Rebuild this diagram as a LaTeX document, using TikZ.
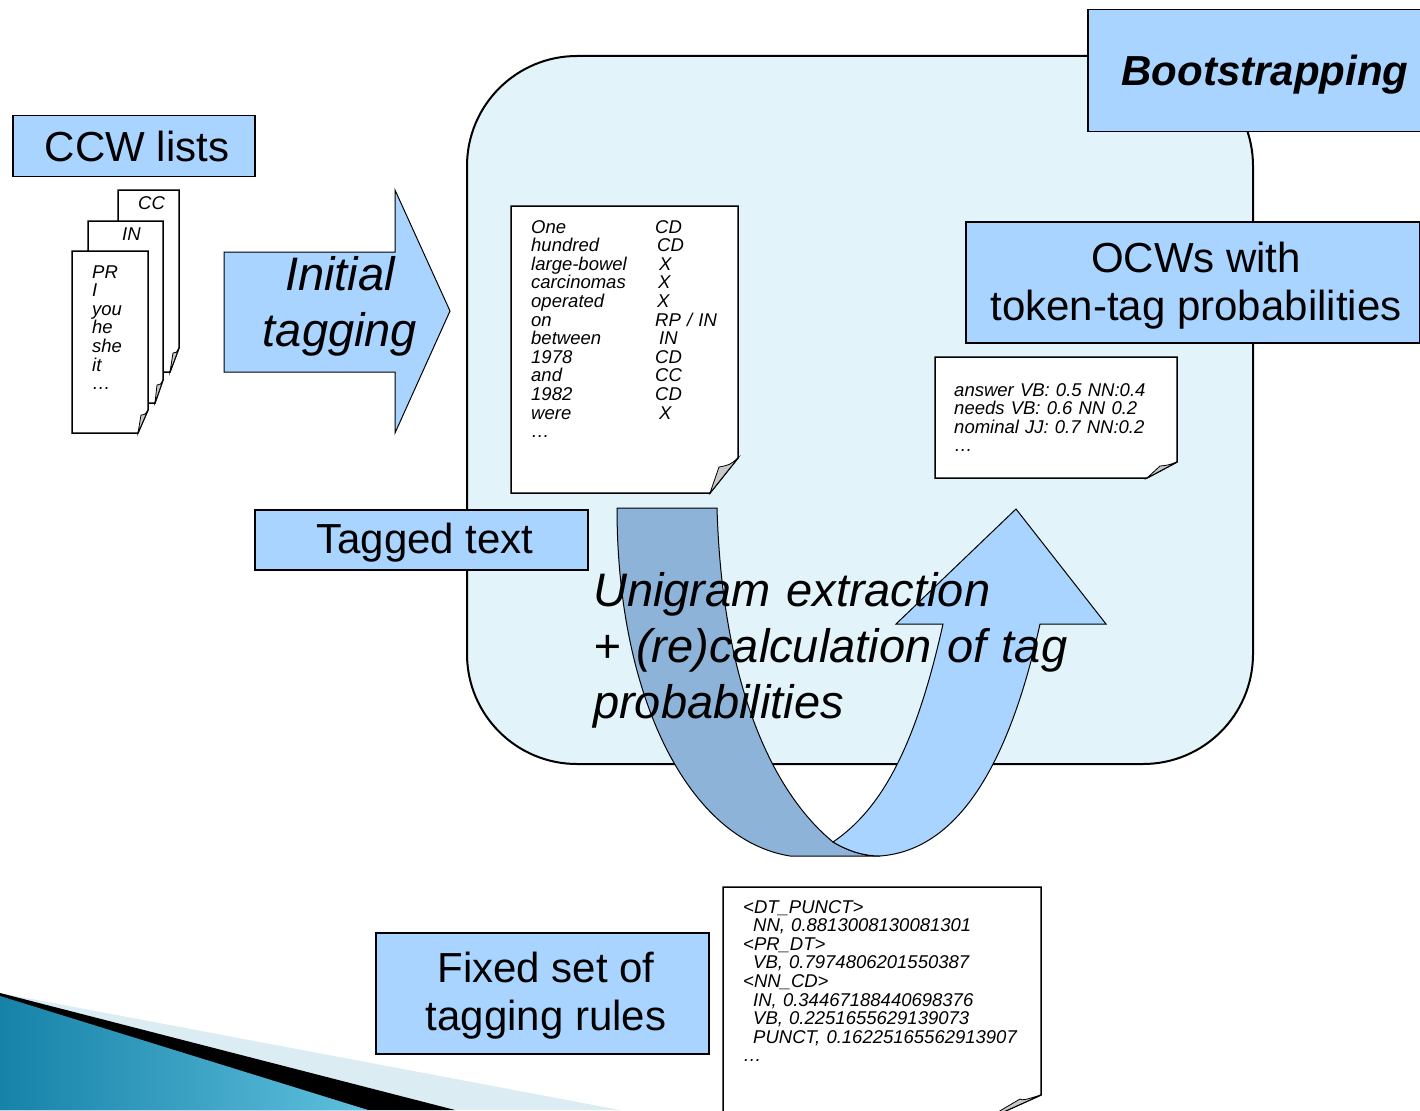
\documentclass[tikz,border=0pt]{standalone}
\usepackage{fontspec}
\setmainfont{Liberation Sans}
\definecolor{boxblue}{RGB}{168,212,255}
\definecolor{bigcyan}{RGB}{226,244,249}
\definecolor{darkblue}{RGB}{141,179,217}
\definecolor{foldgray}{RGB}{200,200,200}
\definecolor{lightband}{RGB}{220,236,243}
\definecolor{tealdark}{RGB}{22,130,168}
\definecolor{teallight}{RGB}{95,192,222}
\newcommand{\docpage}[8]{%
  \filldraw[pageline] (#1,#2) -- (#3,#2) -- (#3,#4-#6) -- (#3-#5,#4) -- (#1,#4) -- cycle;
  \filldraw[foldline] (#3,#4-#6) .. controls (#3-0.3*#5,#4-0.8*#6) .. (#7,#8) -- (#3-#5,#4) -- cycle;}
\begin{document}
\begin{tikzpicture}[x=1pt,y=-1pt,
  box/.style={draw=black,line width=1.5pt,fill=boxblue,inner sep=0pt,anchor=north west},
  bigtext/.style={font=\fontsize{42}{48}\selectfont,inner sep=0pt,anchor=base},
  ittext/.style={font=\fontsize{47}{56}\selectfont\itshape,inner sep=0pt},
  doctext/.style={font=\fontsize{18.5}{18.6}\selectfont\itshape,inner sep=0pt,align=left,anchor=base west},
  pageline/.style={draw=black,line width=1.5pt,fill=white},
  foldline/.style={draw=black,line width=0.8pt,fill=foldgray},
  shapeline/.style={draw=black,line width=1pt}]
\useasboundingbox (0,0) rectangle (1420,1110);
\clip (0,0) rectangle (1420,1110);

% bottom-left decoration
\fill[lightband] (0,993) -- (620,1110) -- (0,1110) -- cycle;
\fill[black] (0,993) -- (455,1110) -- (0,1110) -- cycle;
\shade[left color=tealdark,right color=teallight] (0,996) -- (368,1110) -- (0,1110) -- cycle;

% big rounded bootstrapping area
\node[draw=black,line width=2pt,fill=bigcyan,rounded corners=110pt,minimum width=786pt,minimum height=708pt,anchor=north west,inner sep=0pt] (area) at (466,55) {};

% Bootstrapping label box
\node[box,minimum width=360pt,minimum height=122pt] (bootbox) at (1087,9) {};
\node[font=\fontsize{42}{48}\selectfont\bfseries\itshape,inner sep=0pt,anchor=base] (boottext) at (1265,86) {Bootstrapping};

% CCW lists
\node[box,minimum width=242pt,minimum height=61pt] (ccwbox) at (12,115) {};
\node[bigtext] (ccwtext) at (137,162) {CCW lists};
\docpage{118}{190}{179}{372}{9}{24}{173}{353}
\docpage{88}{221}{163}{403}{8}{23}{157}{385}
\docpage{72}{251}{148}{433}{10}{23}{141}{415}
\node[doctext] (cclabel) at (138,209) {CC};
\node[doctext] (inlabel) at (122,240) {IN};
\node[doctext,text width=50pt] (prlist) at (92,278) {PR\\I\\you\\he\\she\\it\\…};

% Initial tagging arrow
\filldraw[shapeline,fill=boxblue] (224,252) -- (395,252) -- (395,190) -- (450,311) -- (395,433) -- (395,372) -- (224,372) -- cycle;
\node[ittext,anchor=base] (init1) at (340,290) {Initial};
\node[ittext,anchor=base] (init2) at (340,346) {tagging};

% tagged text document
\docpage{511}{206}{738}{493}{28}{35}{719}{467}
\node[doctext,text width=120pt] (words) at (531,233) {One\\hundred\\large-bowel\\carcinomas\\operated\\on\\between\\1978\\and\\1982\\were\\…};
\node[doctext,text width=80pt] (tags) at (655,233) {CD\\\hspace*{2pt}CD\\\hspace*{4pt}X\\\hspace*{3pt}X\\\hspace*{2pt}X\\RP / IN\\\hspace*{4pt}IN\\CD\\CC\\CD\\\hspace*{4pt}X};

% Tagged text box
\node[box,minimum width=333pt,minimum height=60pt] (taggedbox) at (254,509) {};
\node[bigtext] (taggedtext) at (425,553) {Tagged text};

% OCWs box
\node[box,minimum width=454pt,minimum height=121pt] (ocwbox) at (965,221) {};
\node[bigtext] (ocw1) at (1196,272) {OCWs with};
\node[bigtext] (ocw2) at (1196,320) {token-tag probabilities};

% OCW document
\docpage{935}{357}{1177}{478}{30}{16}{1160}{466}
\node[doctext,text width=220pt] (ocwlist) at (954,396) {answer VB: 0.5 NN:0.4\\needs VB: 0.6 NN 0.2\\nominal JJ: 0.7 NN:0.2\\…};

% curved U arrow
\filldraw[shapeline,fill=darkblue] (617,508) -- (717,508) .. controls (722,680) and (770,790) .. (833,842)
  .. controls (850,852) and (865,856) .. (880,856) -- (790,856)
  .. controls (690,840) and (617,700) .. (617,508) -- cycle;
\filldraw[shapeline,fill=boxblue] (833,842) .. controls (880,810) and (915,750) .. (943,624)
  -- (896,624) -- (1016,509) -- (1106,624) -- (1040,624)
  .. controls (1010,760) and (960,850) .. (880,856)
  .. controls (865,856) and (850,852) .. (833,842) -- cycle;
\node[ittext,text width=560pt,align=left,anchor=base west] (unigram) at (593,606) {Unigram extraction\\+ (re)calculation of tag\\probabilities};

% Fixed set of tagging rules
\node[box,minimum width=333pt,minimum height=121pt] (fixedbox) at (375,932) {};
\node[bigtext] (fixed1) at (546,982) {Fixed set of};
\node[bigtext] (fixed2) at (546,1030) {tagging rules};

% rules document
\docpage{723}{887}{1041}{1122}{60}{27}{1020}{1099}
\node[doctext,text width=300pt] (rules) at (743,913) {<DT\_PUNCT>\\\hspace*{10pt}NN, 0.8813008130081301\\<PR\_DT>\\\hspace*{10pt}VB, 0.7974806201550387\\<NN\_CD>\\\hspace*{10pt}IN, 0.34467188440698376\\\hspace*{10pt}VB, 0.2251655629139073\\\hspace*{10pt}PUNCT, 0.16225165562913907\\…};
\end{tikzpicture}
\end{document}
